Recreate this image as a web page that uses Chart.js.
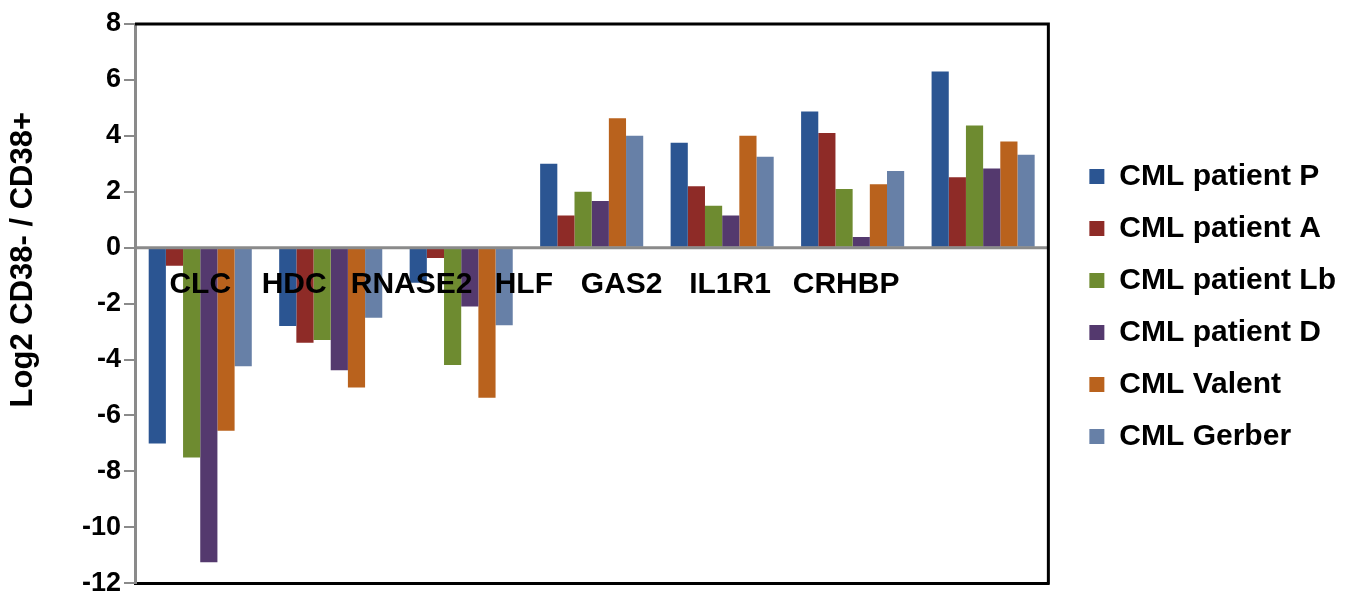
<!DOCTYPE html>
<html>
<head>
<meta charset="utf-8">
<script src="https://cdn.jsdelivr.net/npm/chart.js@4/dist/chart.umd.min.js"></script>
<style>
  html, body { margin: 0; padding: 0; background: #ffffff; overflow: hidden; }
  #wrap { position: relative; width: 1353px; height: 597px; }
</style>
</head>
<body>
<div id="wrap"><canvas id="c"></canvas></div>
<script>
// ---- data ----
const categories = ['CLC', 'HDC', 'RNASE2', 'HLF', 'GAS2', 'IL1R1', 'CRHBP'];
const patientP  = [-7.0,  -2.8,  -1.25, 3.0,  3.75, 4.87, 6.3];
const patientA  = [-0.65, -3.4,  -0.37, 1.15, 2.2,  4.1,  2.52];
const patientLb = [-7.5,  -3.3,  -4.2,  2.0,  1.5,  2.1,  4.37];
const patientD  = [-11.25,-4.38, -2.1,  1.67, 1.15, 0.38, 2.83];
const valent    = [-6.55, -5.0,  -5.37, 4.63, 4.0,  2.27, 3.8];
const gerber    = [-4.24, -2.51, -2.77, 4.0,  3.25, 2.74, 3.32];
const seriesNames = ['CML patient P', 'CML patient A', 'CML patient Lb', 'CML patient D', 'CML Valent', 'CML Gerber'];
const yTicks = [-12, -10, -8, -6, -4, -2, 0, 2, 4, 6, 8];
const yTitle = 'Log2 CD38- / CD38+';

const colors = ['#2B5592', '#8E2B27', '#6E8B30', '#54396E', '#B9621D', '#6780A7'];
const seriesValues = [patientP, patientA, patientLb, patientD, valent, gerber];
const FONT = '"Liberation Sans", Arial, sans-serif';

// plugin: frame, zero line over bars, axis title and category labels placed as in the figure
const decor = {
  id: 'decor',
  afterLayout(chart) {
    // leave a gap between plot frame and legend, as in the figure
    const lg = chart.legend;
    if (lg) { lg.left += 19; lg.right += 19; lg.top += 1; lg.bottom += 1; }
  },
  afterDatasetsDraw(chart) {
    const {ctx, chartArea: a, scales: {x, y}} = chart;
    ctx.save();
    // zero line
    const y0 = y.getPixelForValue(0);
    ctx.strokeStyle = '#8a8a8a';
    ctx.lineWidth = 3;
    ctx.beginPath();
    ctx.moveTo(a.left, y0);
    ctx.lineTo(a.right, y0);
    ctx.stroke();
    // top and right border
    ctx.strokeStyle = '#000000';
    ctx.lineWidth = 3;
    ctx.beginPath();
    ctx.moveTo(a.left, a.top);
    ctx.lineTo(a.right, a.top);
    ctx.lineTo(a.right, a.bottom + 1.5);
    ctx.stroke();
    // category labels (placed as in the original figure, in category units)
    const anchors = [0, 0.72, 1.62, 2.48, 3.23, 4.06, 4.95];
    ctx.fillStyle = '#000000';
    ctx.font = 'bold 30px ' + FONT;
    ctx.textAlign = 'center';
    ctx.textBaseline = 'middle';
    const ly = y.getPixelForValue(-1.32);
    categories.forEach((c, i) => {
      ctx.fillText(c, x.getPixelForValue(anchors[i]), ly);
    });
    // y axis title
    ctx.translate(y.left + 23, y.getPixelForValue(-0.43));
    ctx.rotate(-Math.PI / 2);
    ctx.font = 'bold 31px ' + FONT;
    ctx.fillText(yTitle, 0, 0);
    ctx.restore();
  }
};

new Chart(document.getElementById('c'), {
  type: 'bar',
  data: {
    labels: categories,
    datasets: seriesValues.map((vals, i) => ({
      label: seriesNames[i],
      data: vals,
      backgroundColor: colors[i],
      borderWidth: 0,
      categoryPercentage: 0.79,
      barPercentage: 1.0
    }))
  },
  options: {
    responsive: true,
    maintainAspectRatio: false,
    animation: false,
    layout: { padding: { top: 24, bottom: 10, left: 0, right: 26 } },
    plugins: {
      tooltip: { enabled: false },
      legend: {
        position: 'right',
        labels: {
          boxWidth: 15,
          boxHeight: 15,
          padding: 22,
          color: '#000000',
          font: { family: FONT, size: 30, weight: 'bold' }
        }
      }
    },
    scales: {
      x: {
        type: 'category',
        grid: { display: false, drawTicks: false },
        ticks: { display: false },
        border: { display: true, color: '#000000', width: 3 },
        afterFit(scale) { scale.height = 0; }
      },
      y: {
        min: -12,
        max: 8,
        afterBuildTicks(scale) { scale.ticks = yTicks.map(v => ({ value: v })); },
        afterFit(scale) { scale.width = 135; },
        ticks: {
          color: '#000000',
          padding: 3,
          font: { family: FONT, size: 27, weight: 'bold', lineHeight: 0.8 }
        },
        grid: {
          drawOnChartArea: false,
          drawTicks: true,
          tickLength: 11,
          color: '#8a8a8a',
          lineWidth: 2
        },
        border: { display: true, color: '#8a8a8a', width: 3 }
      }
    }
  },
  plugins: [decor]
});
</script>
</body>
</html>
